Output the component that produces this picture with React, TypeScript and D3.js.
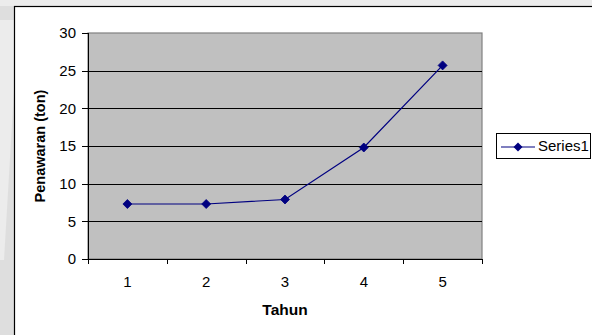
import React from "react";
import * as d3 from "d3";

const categories = ["1", "2", "3", "4", "5"];
const seriesValues = [7.3, 7.3, 7.9, 14.8, 25.7];
const yTicks = [0, 5, 10, 15, 20, 25, 30];
const seriesName = "Series1";
const xTitle = "Tahun";
const yTitle = "Penawaran (ton)";

const W = 592;
const H = 335;
const plot = { left: 88, top: 33, right: 482, bottom: 259 };
const FONT = "'Liberation Sans', Arial, sans-serif";

export default function App() {
  const x = d3
    .scaleBand<string>()
    .domain(categories)
    .range([plot.left, plot.right])
    .paddingInner(0)
    .paddingOuter(0);
  const y = d3.scaleLinear().domain([0, 30]).range([plot.bottom, plot.top]);

  const pts: [number, number][] = seriesValues.map((v, i) => [
    (x(categories[i]) as number) + x.bandwidth() / 2,
    y(v),
  ]);
  const line = d3.line<[number, number]>()(pts) || "";
  const diamond = (cx: number, cy: number, r = 4.5) =>
    `M${cx},${cy - r}L${cx + r},${cy}L${cx},${cy + r}L${cx - r},${cy}Z`;

  const xBoundaries = [...categories.map((c) => x(c) as number), plot.right];

  const legend = { x: 496, y: 133, w: 94, h: 25 };

  return (
    <svg
      width={W}
      height={H}
      style={{ position: "absolute", left: 0, top: 0, background: "#fff" }}
    >
      {/* faint watermark background */}
      <rect x={0} y={0} width={14} height={H} fill="#dedede" />
      <polygon points="0,20 14,20 14,90 4,260 0,260" fill="#ececec" />
      <rect x={0} y={0} width={W} height={6} fill="#ececec" />

      {/* outer chart frame */}
      <rect x={14.5} y={6.5} width={W} height={H} fill="#fff" stroke="#000" strokeWidth={1.2} />

      {/* plot area */}
      <rect
        x={plot.left}
        y={plot.top}
        width={plot.right - plot.left}
        height={plot.bottom - plot.top}
        fill="#c0c0c0"
        stroke="#808080"
        strokeWidth={1.2}
      />

      {/* gridlines */}
      {yTicks
        .filter((t) => t > 0 && t < 30)
        .map((t) => (
          <line
            key={"g" + t}
            x1={plot.left}
            x2={plot.right}
            y1={Math.round(y(t)) + 0.5}
            y2={Math.round(y(t)) + 0.5}
            stroke="#000"
            strokeWidth={1}
          />
        ))}

      {/* y axis */}
      <line x1={plot.left + 0.5} x2={plot.left + 0.5} y1={plot.top} y2={plot.bottom} stroke="#000" strokeWidth={1} />
      {yTicks.map((t) => (
        <g key={"y" + t}>
          <line
            x1={plot.left - 6}
            x2={plot.left}
            y1={Math.round(y(t)) + 0.5}
            y2={Math.round(y(t)) + 0.5}
            stroke="#000"
          />
          <text
            x={plot.left - 12}
            y={y(t)}
            dy="0.35em"
            textAnchor="end"
            fontFamily={FONT}
            fontSize={15}
            fill="#000"
          >
            {t}
          </text>
        </g>
      ))}

      {/* x axis */}
      <line x1={plot.left} x2={plot.right} y1={plot.bottom + 0.5} y2={plot.bottom + 0.5} stroke="#000" strokeWidth={1} />
      {xBoundaries.map((bx, i) => (
        <line
          key={"xt" + i}
          x1={Math.round(bx) + 0.5}
          x2={Math.round(bx) + 0.5}
          y1={plot.bottom}
          y2={plot.bottom + 5}
          stroke="#000"
        />
      ))}
      {categories.map((c) => (
        <text
          key={"xl" + c}
          x={(x(c) as number) + x.bandwidth() / 2}
          y={282}
          dy="0.35em"
          textAnchor="middle"
          fontFamily={FONT}
          fontSize={15}
          fill="#000"
        >
          {c}
        </text>
      ))}

      {/* axis titles */}
      <text
        x={(plot.left + plot.right) / 2}
        y={310}
        dy="0.35em"
        textAnchor="middle"
        fontFamily={FONT}
        fontSize={15.5}
        fontWeight="bold"
        fill="#000"
      >
        {xTitle}
      </text>
      <text
        transform={`translate(40,${(plot.top + plot.bottom) / 2}) rotate(-90)`}
        dy="0.35em"
        textAnchor="middle"
        fontFamily={FONT}
        fontSize={14.5}
        fontWeight="bold"
        fill="#000"
      >
        {yTitle}
      </text>

      {/* series */}
      <path d={line} fill="none" stroke="#000080" strokeWidth={1.2} />
      {pts.map(([px, py], i) => (
        <path key={"m" + i} d={diamond(px, py)} fill="#000080" stroke="#000080" strokeWidth={0.8} />
      ))}

      {/* legend */}
      <rect
        x={legend.x + 0.5}
        y={legend.y + 0.5}
        width={legend.w}
        height={legend.h}
        fill="#fff"
        stroke="#000"
        strokeWidth={1}
      />
      <line x1={501} x2={535} y1={147} y2={147} stroke="#000080" strokeWidth={1.2} />
      <path d={diamond(518, 147)} fill="#000080" />
      <text x={538} y={146} dy="0.35em" fontFamily={FONT} fontSize={15} fill="#000">
        {seriesName}
      </text>
    </svg>
  );
}
